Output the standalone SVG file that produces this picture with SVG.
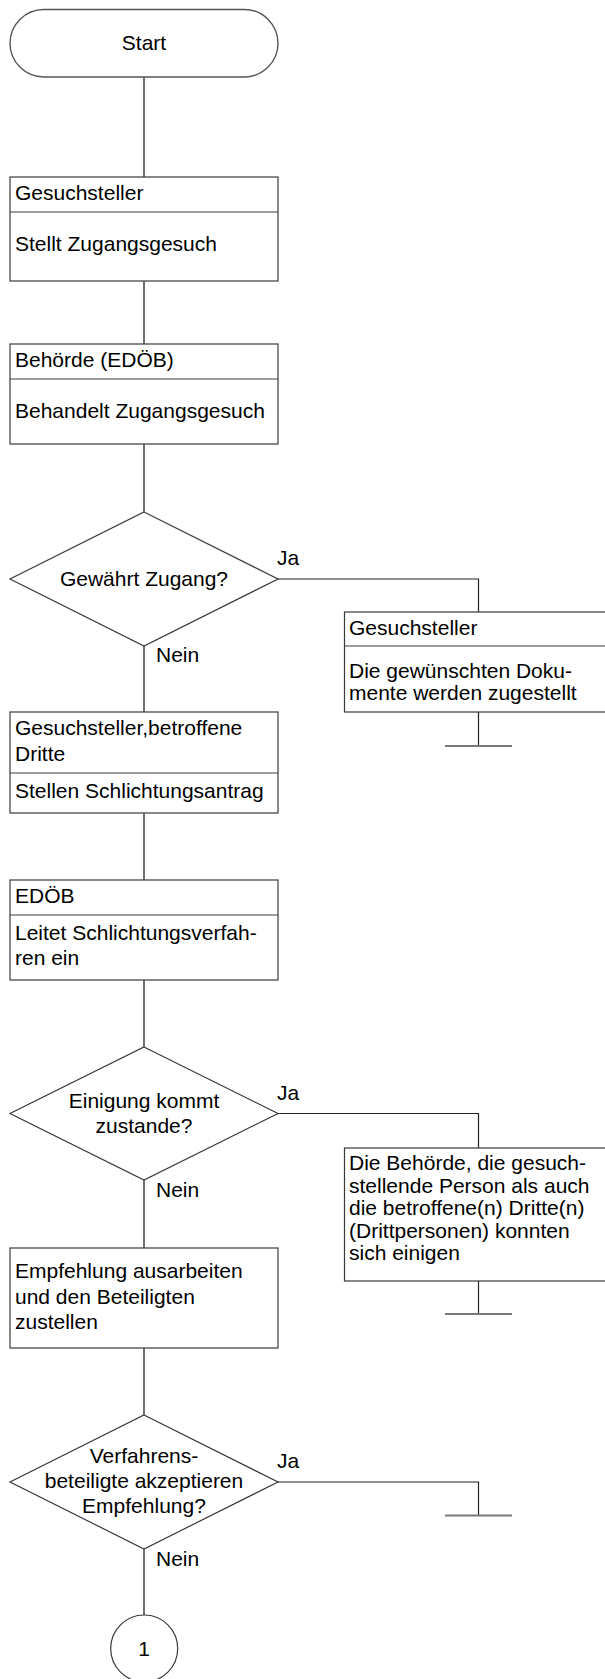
<svg xmlns="http://www.w3.org/2000/svg" width="605" height="1679" viewBox="0 0 605 1679">
  <style>
    text { font-family: "Liberation Sans", Arial, sans-serif; font-size: 21px; fill: #000; }
    .c { text-anchor: middle; }
    .shape { fill: #fff; stroke: #3a3a3a; stroke-width: 1.2; }
    .term { fill: #fff; stroke: #555; stroke-width: 1.4; }
    .sep { stroke: #3a3a3a; stroke-width: 1.2; }
    .spine { fill: none; stroke: #707070; stroke-width: 2; }
    .branch { fill: none; stroke: #222; stroke-width: 1.2; }
    .stop { stroke: #7a7a7a; stroke-width: 2; }
  </style>
  <rect width="605" height="1679" fill="#fff"/>

  <!-- connectors -->
  <g id="connectors">
    <line class="spine" x1="144" y1="77" x2="144" y2="177"/>
    <line class="spine" x1="144" y1="281" x2="144" y2="344"/>
    <line class="spine" x1="144" y1="444" x2="144" y2="512"/>
    <line class="spine" x1="144" y1="646" x2="144" y2="712"/>
    <line class="spine" x1="144" y1="813" x2="144" y2="880"/>
    <line class="spine" x1="144" y1="980" x2="144" y2="1047"/>
    <line class="spine" x1="144" y1="1180" x2="144" y2="1248"/>
    <line class="spine" x1="144" y1="1348" x2="144" y2="1415"/>
    <line class="spine" x1="144" y1="1549" x2="144" y2="1615"/>

    <polyline class="branch" points="277,579 478.5,579 478.5,612"/>
    <line class="branch" x1="478.5" y1="712" x2="478.5" y2="746"/>
    <line class="stop" x1="445" y1="746" x2="512" y2="746"/>

    <polyline class="branch" points="277,1113.5 478.5,1113.5 478.5,1148"/>
    <line class="branch" x1="478.5" y1="1281" x2="478.5" y2="1314"/>
    <line class="stop" x1="445" y1="1314" x2="512" y2="1314"/>

    <polyline class="branch" points="277,1482 478.5,1482 478.5,1515.5"/>
    <line class="stop" x1="445" y1="1515.5" x2="512" y2="1515.5"/>

    <text x="277" y="565">Ja</text>
    <text x="156" y="662">Nein</text>
    <text x="277" y="1100">Ja</text>
    <text x="156" y="1197">Nein</text>
    <text x="277" y="1468">Ja</text>
    <text x="156" y="1566">Nein</text>
  </g>

  <g id="start">
    <rect class="term" x="10" y="9.5" width="268" height="67.5" rx="33.75" ry="33.75"/>
    <text class="c" x="144" y="50">Start</text>
  </g>

  <g id="gesuch-stellen">
    <rect class="shape" x="10" y="177" width="268" height="104"/>
    <line class="sep" x1="10" y1="212" x2="278" y2="212"/>
    <text x="15" y="200">Gesuchsteller</text>
    <text x="15" y="251">Stellt Zugangsgesuch</text>
  </g>

  <g id="gesuch-behandeln">
    <rect class="shape" x="10" y="344" width="268" height="100"/>
    <line class="sep" x1="10" y1="379" x2="278" y2="379"/>
    <text x="15" y="367">Behörde (EDÖB)</text>
    <text x="15" y="418">Behandelt Zugangsgesuch</text>
  </g>

  <g id="zugang-entscheid">
    <polygon class="shape" points="144,512 278,579 144,646 10,579"/>
    <text class="c" x="144" y="586">Gewährt Zugang?</text>
  </g>

  <g id="dokumente-zustellen">
    <rect class="shape" x="344.5" y="612" width="268" height="100"/>
    <line class="sep" x1="344.5" y1="646" x2="612.5" y2="646"/>
    <text x="349" y="635">Gesuchsteller</text>
    <text x="349" y="678">Die gewünschten Doku-</text>
    <text x="349" y="700">mente werden zugestellt</text>
  </g>

  <g id="schlichtungsantrag">
    <rect class="shape" x="10" y="712" width="268" height="101"/>
    <line class="sep" x1="10" y1="773" x2="278" y2="773"/>
    <text x="15" y="735">Gesuchsteller,betroffene</text>
    <text x="15" y="761">Dritte</text>
    <text x="15" y="798">Stellen Schlichtungsantrag</text>
  </g>

  <g id="schlichtungsverfahren">
    <rect class="shape" x="10" y="880" width="268" height="100"/>
    <line class="sep" x1="10" y1="915" x2="278" y2="915"/>
    <text x="15" y="903">EDÖB</text>
    <text x="15" y="940">Leitet Schlichtungsverfah-</text>
    <text x="15" y="965">ren ein</text>
  </g>

  <g id="einigung-entscheid">
    <polygon class="shape" points="144,1047 278,1113.5 144,1180 10,1113.5"/>
    <text class="c" x="144" y="1108">Einigung kommt</text>
    <text class="c" x="144" y="1133">zustande?</text>
  </g>

  <g id="einigung-erzielt">
    <rect class="shape" x="344.5" y="1148" width="268" height="133"/>
    <text x="349" y="1170">Die Behörde, die gesuch-</text>
    <text x="349" y="1192.5">stellende Person als auch</text>
    <text x="349" y="1215">die betroffene(n) Dritte(n)</text>
    <text x="349" y="1237.5">(Drittpersonen) konnten</text>
    <text x="349" y="1260">sich einigen</text>
  </g>

  <g id="empfehlung">
    <rect class="shape" x="10" y="1248" width="268" height="100"/>
    <text x="15" y="1278">Empfehlung ausarbeiten</text>
    <text x="15" y="1303.5">und den Beteiligten</text>
    <text x="15" y="1329">zustellen</text>
  </g>

  <g id="empfehlung-entscheid">
    <polygon class="shape" points="144,1415 278,1482 144,1549 10,1482"/>
    <text class="c" x="144" y="1463">Verfahrens-</text>
    <text class="c" x="144" y="1488">beteiligte akzeptieren</text>
    <text class="c" x="144" y="1513">Empfehlung?</text>
  </g>

  <g id="verbinder-1">
    <circle class="shape" cx="144.2" cy="1648.5" r="33.5"/>
    <text class="c" x="144.2" y="1656">1</text>
  </g>
</svg>
